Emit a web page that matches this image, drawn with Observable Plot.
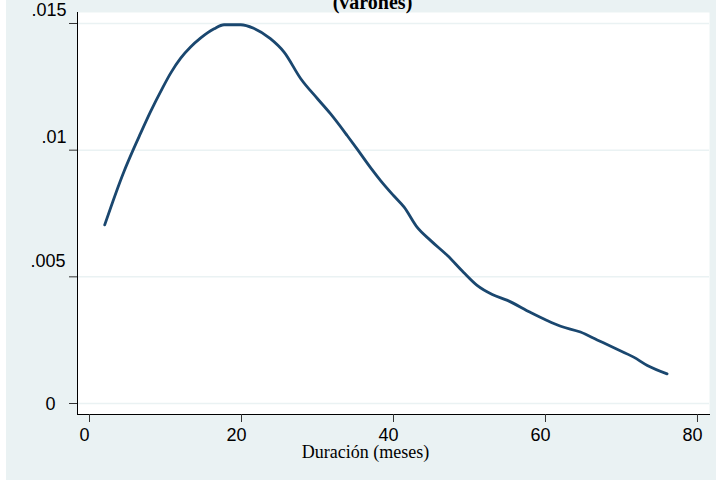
<!DOCTYPE html>
<html>
<head>
<meta charset="utf-8">
<script src="https://cdn.jsdelivr.net/npm/d3@7"></script>
<script src="https://cdn.jsdelivr.net/npm/@observablehq/plot@0.6"></script>
<style>
  html, body { margin: 0; padding: 0; background: #ffffff; }
  #wrap { margin-left: 6px; width: 710px; height: 480px; background: #eaf2f3; overflow: hidden; }
  #wrap svg { display: block; background: transparent; }
</style>
</head>
<body>
<div id="wrap"></div>
<script>
// Data
const duration = [2.0, 4.5, 5.8, 6.7, 8.0, 9.6, 10.7, 12.0, 13.3, 14.6, 16.4, 17.7, 19.9, 21.6, 23.8, 25.6, 27.8, 30.0, 31.7, 33.9, 35.2, 37.0, 38.3, 40.0, 41.4, 43.1, 44.9, 47.1, 49.2, 51.0, 53.0, 55.0, 58.0, 60.2, 62.0, 64.6, 66.8, 69.0, 71.6, 73.4, 76.0];
const density  = [0.00705, 0.00913, 0.01005, 0.01065, 0.01150, 0.01245, 0.01305, 0.01363, 0.01407, 0.01442, 0.01479, 0.01495, 0.01495, 0.01481, 0.01440, 0.01387, 0.01282, 0.01203, 0.01144, 0.01058, 0.01005, 0.00930, 0.00880, 0.00821, 0.00775, 0.00696, 0.00643, 0.00584, 0.00518, 0.00466, 0.00430, 0.00407, 0.00360, 0.00328, 0.00305, 0.00282, 0.00251, 0.00220, 0.00183, 0.00150, 0.00117];
const xTicks = [0, 20, 40, 60, 80];
const yTicks = [0, 0.005, 0.01, 0.015];
const title = "(varones)";
const xLabel = "Duración (meses)";

const data = duration.map((d, i) => ({x: d, y: density[i]}));
const fmtY = d => d === 0 ? "0" : String(d).replace(/^0\./, ".");
const blank = () => "";
const sans = "'Liberation Sans', Arial, sans-serif";
const serif = "'Liberation Serif', 'Times New Roman', serif";

const chart = Plot.plot({
  width: 710,
  height: 480,
  marginLeft: 71,
  marginRight: 7,
  marginTop: 12,
  marginBottom: 66,
  style: {background: "transparent", fontFamily: sans, fontSize: "18px", color: "#000", overflow: "hidden"},
  x: {domain: [-1.58, 81.58], axis: null},
  y: {domain: [-0.000434, 0.015434], axis: null},
  marks: [
    Plot.frame({fill: "#ffffff", stroke: null}),
    Plot.gridY(yTicks, {stroke: "#eaf2f3", strokeOpacity: 1, strokeWidth: 1.5}),
    Plot.line(data, {x: "x", y: "y", stroke: "#1a476f", strokeWidth: 2.8, curve: "monotone-x"}),
    Plot.frame({anchor: "left", stroke: "#000", strokeWidth: 1}),
    Plot.frame({anchor: "bottom", stroke: "#000", strokeWidth: 1}),
    Plot.axisY(yTicks, {anchor: "left", tickSize: 8, tickFormat: blank, label: null, stroke: "#333"}),
    Plot.axisY([0], {anchor: "left", tickSize: 0, tickPadding: 22, dy: 1, tickFormat: fmtY, label: null, fontSize: 18, fill: "#000"}),
    Plot.axisY([0.005], {anchor: "left", tickSize: 0, tickPadding: 12, dy: -16, tickFormat: fmtY, label: null, fontSize: 18, fill: "#000"}),
    Plot.axisY([0.01, 0.015], {anchor: "left", tickSize: 0, tickPadding: 11, dy: -13, tickFormat: fmtY, label: null, fontSize: 18, fill: "#000"}),
    Plot.axisX(xTicks, {anchor: "bottom", tickSize: 8, tickFormat: blank, label: null, stroke: "#333"}),
    Plot.axisX(xTicks, {anchor: "bottom", tickSize: 0, tickPadding: 14, dx: -5, label: null, fontSize: 18, fill: "#000"}),
    Plot.text([xLabel], {frameAnchor: "bottom", lineAnchor: "top", dy: 31, dx: -28, fontFamily: serif, fontSize: 18, fill: "#000"}),
    Plot.text([title], {frameAnchor: "top", lineAnchor: "bottom", dy: -4, dx: -21, fontFamily: serif, fontWeight: "bold", fontSize: 20, fill: "#000"})
  ]
});
document.getElementById("wrap").appendChild(chart);
</script>
</body>
</html>
